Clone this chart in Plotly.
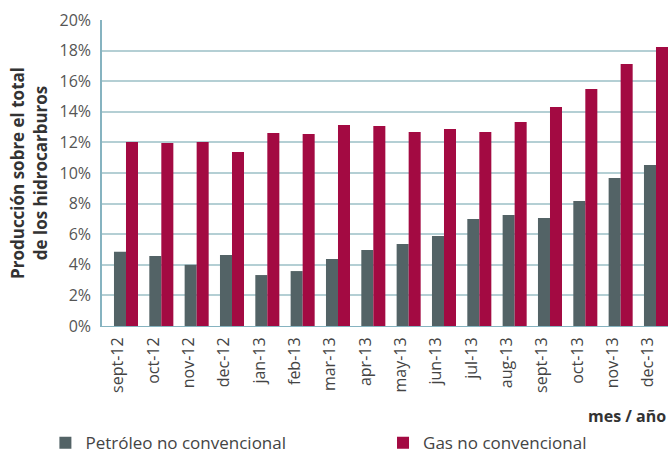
import plotly.graph_objects as go

months = ["sept-12", "oct-12", "nov-12", "dec-12", "jan-13", "feb-13", "mar-13", "apr-13",
          "may-13", "jun-13", "jul-13", "aug-13", "sept-13", "oct-13", "nov-13", "dec-13"]
petroleo = [4.85, 4.58, 4.0, 4.64, 3.33, 3.59, 4.38, 4.97,
            5.36, 5.88, 7.0, 7.25, 7.06, 8.17, 9.67, 10.52]
gas = [12.03, 11.96, 12.03, 11.37, 12.61, 12.55, 13.14, 13.07,
       12.68, 12.88, 12.68, 13.33, 14.31, 15.49, 17.12, 18.24]
y_ticks = [0, 2, 4, 6, 8, 10, 12, 14, 16, 18, 20]
y_tick_labels = ["0%", "2%", "4%", "6%", "8%", "10%", "12%", "14%", "16%", "18%", "20%"]

FONT = "Open Sans"
GRID = "#b4cfd4"
AXIS = "#86b3c0"
LEGEND_FONT = dict(family=FONT, size=17, color="#444444")

fig = go.Figure()
fig.add_trace(go.Bar(x=months, y=petroleo, name="Petróleo no convencional",
                     marker=dict(color="#536366", line=dict(width=0)), legend="legend"))
fig.add_trace(go.Bar(x=months, y=gas, name="Gas no convencional",
                     marker=dict(color="#a30a42", line=dict(width=0)), legend="legend2"))

fig.update_layout(
    width=668, height=456,
    margin=dict(l=102, r=0, t=20, b=130, autoexpand=False),
    paper_bgcolor="white", plot_bgcolor="white",
    barmode="group", bargap=0.32, bargroupgap=0,
    font=dict(family=FONT, color="#444444"),
    showlegend=True,
    legend=dict(orientation="h", x=-0.1, xanchor="left", y=-0.383, yanchor="middle",
                font=LEGEND_FONT, itemclick=False),
    legend2=dict(orientation="h", x=0.4965, xanchor="left", y=-0.383, yanchor="middle",
                 font=LEGEND_FONT, itemclick=False),
    xaxis=dict(
        type="category", range=[-0.679, 15.34],
        tickangle=-90, tickfont=dict(family=FONT, size=16, color="#444444"),
        ticks="", showgrid=False, showline=True, linecolor=AXIS, linewidth=1,
        ticklabelshift=-8, ticklabelstandoff=4,
    ),
    yaxis=dict(
        range=[0, 20], tickmode="array", tickvals=y_ticks, ticktext=y_tick_labels,
        tickfont=dict(family=FONT, size=16, color="#555555"),
        showgrid=True, gridcolor=GRID, gridwidth=1.5,
        showline=True, linecolor=AXIS, linewidth=1.5,
        zeroline=False, ticks="", ticklabelstandoff=6,
        title=dict(text="<b>Producción sobre el total<br>de los hidrocarburos</b>",
                   font=dict(family=FONT, size=17, color="#333333"), standoff=8),
    ),
    annotations=[dict(text="<b>mes / año</b>", xref="paper", yref="paper",
                      x=1.0, y=-0.294, xanchor="right", yanchor="middle",
                      showarrow=False, font=dict(family=FONT, size=16, color="#333333"))],
)

fig.write_html("out.html", config={"displayModeBar": False},
               post_script="document.body.style.margin='0';")
